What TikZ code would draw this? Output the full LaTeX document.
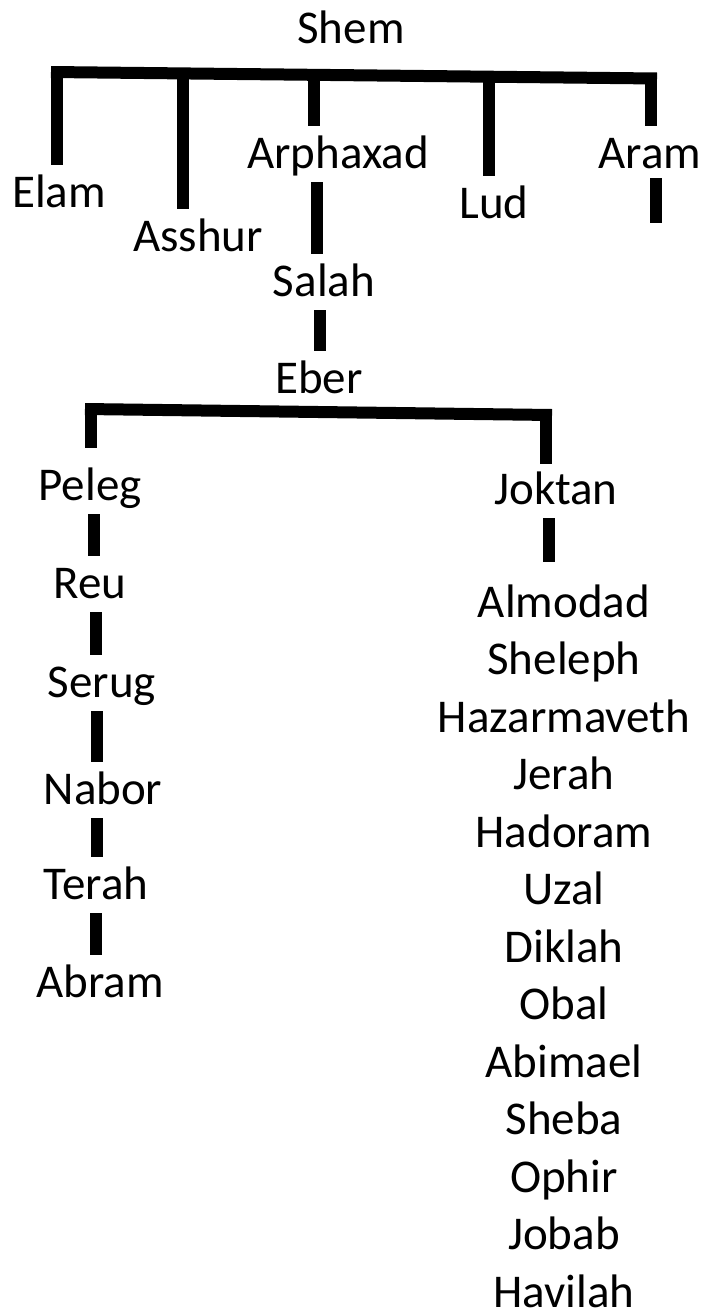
\documentclass[tikz,border=0pt]{standalone}
\usepackage{fontspec}
\setmainfont{Carlito}
\usetikzlibrary{calc}

\tikzset{
  kin/.style={font=\fontsize{47}{57}\selectfont, anchor=base, inner sep=0pt,
    text height=32pt, text depth=10pt},
  bar/.style={line width=12pt},
  link/.style={bar, shorten <=4pt, shorten >=10pt}
}

\begin{document}
\begin{tikzpicture}[x=1pt,y=-1pt]
  \useasboundingbox (0,0) rectangle (705,1312);
  % Shem and his five sons
  \node[kin] (shem) at (351,43) {Shem};
  \node[kin] (elam) at (59,207) {Elam};
  \node[kin] (asshur) at (198,251) {Asshur};
  \node[kin] (arphaxad) at (338,168) {Arphaxad};
  \node[kin] (lud) at (494,218) {Lud};
  \node[kin] (aram) at (650,168) {Aram};
  \coordinate (shembar) at (351,75);
  \draw[bar] (51,72) -- (657,78.5);
  \foreach \kid/\dx in {elam/-2,asshur/-15,arphaxad/-24,lud/-5,aram/1}
    \draw[bar, shorten <=10pt] ($(\kid.north)+(\dx,0)$) coordinate (d) -- (d |- shembar);
  \draw[bar] ($(aram.south)+(6,0)$) -- ++(0,45);

  % Arphaxad down to Eber
  \node[kin] (salah) at (324,296) {Salah};
  \node[kin] (eber) at (319,393) {Eber};
  \foreach \a/\b/\dx in {arphaxad/salah/-21,salah/eber/-4}
    \draw[link] ($(\a.south)+(\dx,0)$) coordinate (l) -- (l |- \b.north);

  % Eber's two sons
  \node[kin] (peleg) at (90,500) {Peleg};
  \node[kin] (joktan) at (556,504) {Joktan};
  \coordinate (eberbar) at (319,412);
  \draw[bar] (85,409) -- (552,415);
  \draw[bar, shorten <=20pt] ($(peleg.north)+(1,0)$) coordinate (d) -- (d |- eberbar);
  \draw[bar, shorten <=8pt] ($(joktan.north)+(-10,0)$) coordinate (d) -- (d |- eberbar);

  % Peleg's line
  \node[kin] (reu) at (90,598) {Reu};
  \node[kin] (serug) at (102,697) {Serug};
  \node[kin] (nabor) at (103,804) {Nabor};
  \node[kin] (terah) at (96,899) {Terah};
  \node[kin] (abram) at (100,997) {Abram};
  \foreach \a/\b/\dx in {peleg/reu/4,reu/serug/6,serug/nabor/-5,nabor/terah/-6,terah/abram/0}
    \draw[link] ($(\a.south)+(\dx,0)$) coordinate (l) -- (l |- \b.north);

  % Joktan's thirteen sons
  \foreach \son [count=\i] in {Almodad,Sheleph,Hazarmaveth,Jerah,Hadoram,Uzal,Diklah,
      Obal,Abimael,Sheba,Ophir,Jobab,Havilah}
    \node[kin] (son\i) at (564,{617+57.5*(\i-1)}) {\son};
  \draw[link, shorten >=23pt] ($(joktan.south)+(-7,0)$) coordinate (l) -- (l |- son1.north);
\end{tikzpicture}
\end{document}
